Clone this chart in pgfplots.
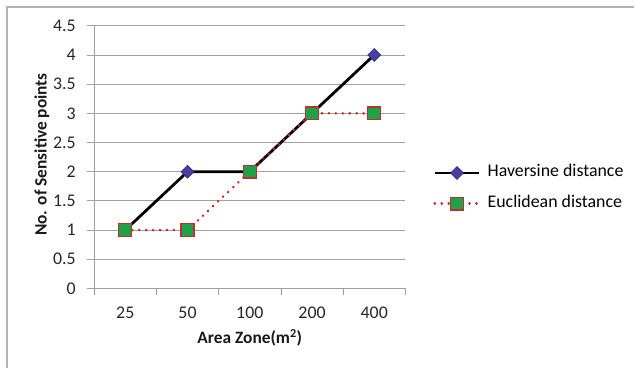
\documentclass[border=0pt]{standalone}
\usepackage{pgfplots}
\pgfplotsset{compat=1.18}
\usetikzlibrary{calc}
\usepackage{fontspec}
\setmainfont{Carlito}
\definecolor{gridc}{HTML}{A0A0A0}
\definecolor{diamf}{HTML}{4A3FA0}
\definecolor{diamd}{HTML}{2E2A80}
\definecolor{sqf}{HTML}{20A048}
\definecolor{sqd}{HTML}{C0302A}
\definecolor{dotred}{HTML}{D02020}
\begin{document}
\begin{tikzpicture}[x=1pt,y=1pt]
\begin{axis}[
  name=ax,
  scale only axis, width=314pt, height=265pt,
  xmin=-0.5, xmax=4.5, ymin=0, ymax=4.5,
  axis lines=left, axis line style={-, gridc, line width=0.8pt},
  xtick={0,1,2,3,4}, xticklabels={25,50,100,200,400},
  major x tick style={draw=none},
  minor xtick={-0.5,0.5,1.5,2.5,3.5,4.5},
  minor x tick style={gridc, line width=0.8pt},
  minor tick length=7pt,
  ytick={0,0.5,...,4.5},
  yticklabels={0,0.5,1,1.5,2,2.5,3,3.5,4,4.5},
  major y tick style={gridc, line width=0.8pt},
  major tick length=7pt,
  tick align=outside,
  ymajorgrids, grid style={gridc, line width=0.8pt},
  tick label style={font=\fontsize{18}{21}\selectfont, text=black!85},
  xticklabel style={anchor=base, yshift=-23pt},
  yticklabel style={anchor=east, xshift=-8pt},
  xlabel={\textbf{Area Zone(m\textsuperscript{2})}},
  ylabel={\textbf{No. of Sensitive points}},
  label style={font=\fontsize{17.5}{20}\selectfont, text=black!90},
  xlabel style={at={(axis description cs:0.5,-0.188)}, anchor=center},
  ylabel style={at={(axis description cs:-0.168,0.51)}, anchor=center, rotate=0},
  clip=false,
  legend style={at={(342pt,101pt)}, anchor=west, draw=none, fill=none,
    font=\fontsize{18}{21}\selectfont, row sep=15pt, inner sep=0pt,
    nodes={text height=12pt, text depth=4pt, inner sep=0pt, inner xsep=0pt},
    /tikz/every odd column/.append style={column sep=7pt},
    legend cell align=left},
  legend image code/.code={
    \draw[#1, mark repeat=2, mark phase=2] plot coordinates {(0pt,0pt) (22.5pt,0pt) (45pt,0pt)};
  },
]
\coordinate (O) at (rel axis cs:0,0);
\addplot[black, line width=2.8pt, mark=square*, mark size=4.6pt,
  mark options={solid, rotate=45, fill=diamf, draw=diamd, line width=0.6pt}]
  coordinates {(0,1) (1,2) (2,2) (3,3) (4,4)};
\addlegendentry{Haversine distance}
\addplot[dotred, line width=2.6pt, line cap=round, dash pattern=on 0.2pt off 6.8pt, mark=square*, mark size=6.5pt,
  mark options={solid, fill=sqf, draw=sqd, line width=1.3pt}]
  coordinates {(0,1) (1,1) (2,2) (3,3) (4,3)};
\addlegendentry{Euclidean distance}
\end{axis}
\draw[gridc!80, line width=1.3pt] ($(O)+(-88,-80)$) -- ($(O)+(-88,284)$) -- ($(O)+(545,284)$);
\path[use as bounding box] ($(O)+(-95,-74)$) rectangle ($(O)+(540,291)$);
\end{tikzpicture}
\end{document}
